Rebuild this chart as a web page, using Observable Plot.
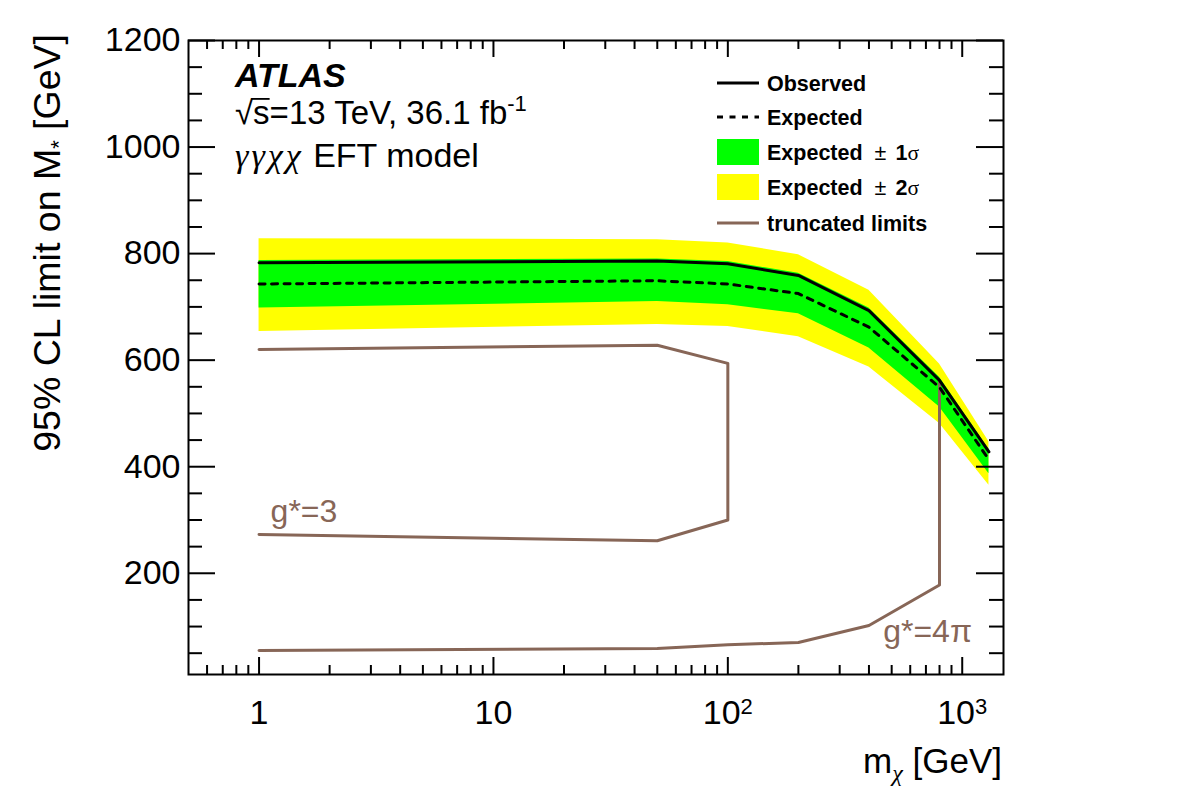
<!DOCTYPE html>
<html>
<head>
<meta charset="utf-8">
<script src="https://cdn.jsdelivr.net/npm/d3@7"></script>
<script src="https://cdn.jsdelivr.net/npm/@observablehq/plot@0.6"></script>
<style>
  body { margin: 0; background: #fff; }
</style>
</head>
<body>
<div id="chart"></div>
<script>
// Dark-matter mass points (GeV)
const mass = [1, 50, 100, 200, 400, 800, 1300];
// 95% CL lower limits on M* (GeV)
const observed = [783, 786, 781, 759, 693, 562, 428];
const expected = [743, 749, 743, 725, 662, 549, 413];
const band1Lo = [698, 710, 704, 687, 623, 512, 387];
const band1Hi = [787, 790, 785, 763, 698, 568, 433];
const band2Lo = [654, 667, 663, 644, 587, 481, 365];
const band2Hi = [828, 826, 820, 798, 731, 593, 447];

// Truncated limits (closed contours traced in order)
const g3Mass = [1, 50, 100, 100, 50, 1];
const g3Limit = [273, 261, 300, 594, 628, 620];
const g4piMass = [1, 50, 100, 200, 400, 800, 800];
const g4piLimit = [55, 59, 66, 70, 102, 178, 562];

// Contour labels
const curveLabels = ["g*=3", "g*=4π"];
const curveLabelMass = [1.12, 460];
const curveLabelLimit = [296, 71];

// Axis ticks
const xMajor = [1, 10, 100, 1000];
const xTickBase = ["1", "10", "10", "10"];
const xTickExp = ["", "", "2", "3"];
const xMinor = [0.6, 0.7, 0.8, 0.9, 2, 3, 4, 5, 6, 7, 8, 9,
  20, 30, 40, 50, 60, 70, 80, 90, 200, 300, 400, 500, 600, 700, 800, 900];
const yMajor = [200, 400, 600, 800, 1000, 1200];
const yMinor = [50, 100, 150, 250, 300, 350, 450, 500, 550, 650, 700, 750,
  850, 900, 950, 1050, 1100, 1150];

// Legend entries
const legendText = ["Observed", "Expected", "Expected", "Expected", "truncated limits"];
const legendSuffix = ["", "", "1", "2", ""];
const legendKind = ["solid", "dashed", "green", "yellow", "brown"];

const BROWN = "#876657";
const FONT = "'Liberation Sans', Arial, Helvetica, sans-serif";
const SERIF = "'Liberation Serif', 'Times New Roman', serif";

const W = 1182, H = 803;
const mL = 188, mR = 179, mT = 40, mB = 129;
const innerW = W - mL - mR, innerH = H - mT - mB;

const rows = mass.map((m, i) => ({
  m, obs: observed[i], exp: expected[i],
  lo1: band1Lo[i], hi1: band1Hi[i], lo2: band2Lo[i], hi2: band2Hi[i]
}));
const g3 = g3Mass.map((m, i) => ({m, v: g3Limit[i]}));
const g4pi = g4piMass.map((m, i) => ({m, v: g4piLimit[i]}));
const labelRows = curveLabels.map((t, i) => ({t, m: curveLabelMass[i], v: curveLabelLimit[i]}));
const xBaseMap = new Map(xMajor.map((v, i) => [v, xTickBase[i]]));

const plot = Plot.plot({
  width: W, height: H,
  marginLeft: mL, marginRight: mR, marginTop: mT, marginBottom: mB,
  x: {type: "log", domain: [0.5, 1500]},
  y: {domain: [10, 1200]},
  style: {fontFamily: FONT, background: "white", color: "black"},
  marks: [
    Plot.areaY(rows, {x: "m", y1: "lo2", y2: "hi2", fill: "#ffff00"}),
    Plot.areaY(rows, {x: "m", y1: "lo1", y2: "hi1", fill: "#00ff00"}),
    Plot.line(g3, {x: "m", y: "v", stroke: BROWN, strokeWidth: 3}),
    Plot.line(g4pi, {x: "m", y: "v", stroke: BROWN, strokeWidth: 3}),
    Plot.line(rows, {x: "m", y: "exp", stroke: "black", strokeWidth: 3, strokeDasharray: "6,6.5"}),
    Plot.line(rows, {x: "m", y: "obs", stroke: "black", strokeWidth: 3}),
    Plot.text(labelRows, {x: "m", y: "v", text: "t", textAnchor: "start", lineAnchor: "bottom",
      fill: BROWN, fontSize: 32}),
    // inward ticks on all four sides
    Plot.tickX(xMajor, {x: d => d, insetTop: innerH - 17, stroke: "black", strokeWidth: 2}),
    Plot.tickX(xMajor, {x: d => d, insetBottom: innerH - 17, stroke: "black", strokeWidth: 2}),
    Plot.tickX(xMinor, {x: d => d, insetTop: innerH - 9, stroke: "black", strokeWidth: 2}),
    Plot.tickX(xMinor, {x: d => d, insetBottom: innerH - 9, stroke: "black", strokeWidth: 2}),
    Plot.tickY(yMajor, {y: d => d, insetRight: innerW - 27, stroke: "black", strokeWidth: 2}),
    Plot.tickY(yMajor, {y: d => d, insetLeft: innerW - 27, stroke: "black", strokeWidth: 2}),
    Plot.tickY(yMinor, {y: d => d, insetRight: innerW - 14, stroke: "black", strokeWidth: 2}),
    Plot.tickY(yMinor, {y: d => d, insetLeft: innerW - 14, stroke: "black", strokeWidth: 2}),
    Plot.axisY(yMajor, {tickSize: 0, tickPadding: 8, fontSize: 34, label: null, tickFormat: d => String(d)}),
    Plot.axisX(xMajor, {tickSize: 0, tickPadding: 25, fontSize: 34, label: null, tickFormat: d => xBaseMap.get(d)}),
    Plot.frame({stroke: "black", strokeWidth: 2})
  ]
});

document.getElementById("chart").appendChild(plot);
const svg = d3.select(plot);

// Exponents on the power-of-ten tick labels
const xScale = plot.scale("x");
svg.selectAll('g[aria-label="x-axis tick label"] text').each(function() {
  const t = d3.select(this);
  const x = Number(t.attr("transform")?.match(/translate\(([-\d.]+)/)?.[1]);
  const dist = xMajor.map(v => Math.abs(xScale.apply(v) - x));
  const idx = dist.indexOf(Math.min(...dist));
  const e = xTickExp[idx];
  if (e) {
    t.text(null);
    t.append("tspan").text(xTickBase[idx]);
    t.append("tspan").attr("dy", "-0.45em").attr("font-size", 22).text(e);
  }
});

// Axis titles
const xt = svg.append("text").attr("x", 1002).attr("y", 773).attr("text-anchor", "end")
  .attr("font-family", FONT).attr("font-size", 35).attr("fill", "black");
xt.append("tspan").text("m");
xt.append("tspan").attr("dy", 8).attr("font-size", 24)
  .attr("font-family", SERIF).attr("font-style", "italic").text("χ");
xt.append("tspan").attr("dy", -8).text(" [GeV]");

const yt = svg.append("text").attr("transform", "translate(60,34) rotate(-90)")
  .attr("text-anchor", "end").attr("font-family", FONT).attr("font-size", 37.5).attr("fill", "black");
yt.append("tspan").text("95% CL limit on M");
yt.append("tspan").attr("dy", 6).attr("font-size", 22).text("*");
yt.append("tspan").attr("dy", -6).text(" [GeV]");

// Experiment label
const info = svg.append("g").attr("font-family", FONT).attr("fill", "black").attr("text-anchor", "start");
info.append("text").attr("x", 235).attr("y", 87).attr("font-size", 34)
  .attr("font-weight", "bold").attr("font-style", "italic").text("ATLAS");
const l2y = 124, l2size = 33;
const l2 = info.append("text").attr("x", 235).attr("y", l2y).attr("font-size", l2size);
l2.append("tspan").text("√s=13 TeV, 36.1 fb");
l2.append("tspan").attr("dy", -13).attr("font-size", 22).text("-1");
// bar of the square root over "s"
{
  const node = l2.node();
  const root = node.getExtentOfChar(0);
  const s = node.getExtentOfChar(1);
  const yBar = l2y - 0.76 * l2size;
  info.append("line").attr("x1", root.x + root.width - 1.5).attr("x2", s.x + s.width)
    .attr("y1", yBar).attr("y2", yBar).attr("stroke", "black").attr("stroke-width", 1.8);
}
const l3 = info.append("text").attr("x", 235).attr("y", 167).attr("font-size", 34);
l3.append("tspan").attr("font-family", SERIF).attr("font-style", "italic")
  .attr("letter-spacing", 3).text("γγχχ");
l3.append("tspan").text(" EFT model");

// Legend
const lg = svg.append("g").attr("font-family", FONT).attr("font-size", 21.5)
  .attr("font-weight", "bold").attr("text-anchor", "start");
const rowY = [83, 117, 152, 187, 223];
legendText.forEach((t, i) => {
  const y = rowY[i], k = legendKind[i];
  if (k === "solid" || k === "dashed" || k === "brown") {
    lg.append("line").attr("x1", 717).attr("x2", 759).attr("y1", y).attr("y2", y)
      .attr("stroke", k === "brown" ? BROWN : "black").attr("stroke-width", 3)
      .attr("stroke-dasharray", k === "dashed" ? "6,6.5" : null);
  } else {
    lg.append("rect").attr("x", 717).attr("y", y - 13).attr("width", 42).attr("height", 26)
      .attr("fill", k === "green" ? "#00ff00" : "#ffff00");
  }
  const tx = lg.append("text").attr("x", 767).attr("y", y).attr("dy", "0.36em").attr("fill", "black");
  tx.append("tspan").text(t);
  if (legendSuffix[i]) {
    tx.append("tspan").attr("dx", 12).attr("font-weight", "normal").text("±");
    tx.append("tspan").attr("dx", 9).text(legendSuffix[i]);
    tx.append("tspan").attr("font-weight", "normal").attr("font-family", SERIF).text("σ");
  }
});
</script>
</body>
</html>
